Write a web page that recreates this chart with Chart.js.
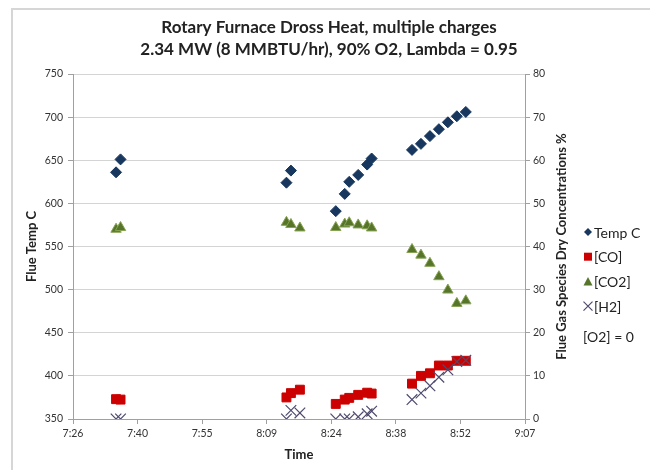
<!DOCTYPE html>
<html>
<head>
<meta charset="utf-8">
<script src="https://cdn.jsdelivr.net/npm/chart.js@4.4.1/dist/chart.umd.min.js"></script>
<style>
html, body { margin: 0; padding: 0; background: #fff; }
</style>
</head>
<body>
<canvas id="furnaceChart" width="650" height="470"></canvas>
<script>
// sample times, minutes after midnight
var sampleMinutes = [456, 457, 494, 495, 497, 505, 507, 508, 510, 512, 513, 522, 524, 526, 528, 530, 532, 534];
// flue temperature, C (null = no reading)
var tempC = [636, 651, 624, 638, null, 591, 611, 625, 633, 645, 652, 662, 669, 678, 686, 694, 701, 706];
// dry gas concentrations, %
var coPct  = [4.6, 4.5, 5.0, 6.0, 6.8, 3.5, 4.5, 4.9, 5.6, 6.1, 5.9, 8.2, 10.0, 10.6, 12.4, 12.4, 13.5, 13.5];
var co2Pct = [44.0, 44.4, 45.6, 45.1, 44.3, 44.4, 45.2, 45.5, 45.0, 44.8, 44.3, 39.3, 38.0, 36.1, 33.0, 29.9, 26.8, 27.4];
var h2Pct  = [0, 0, 0, 2.0, 1.4, 0, 0, 0, 0.5, 1.2, 1.8, 4.5, 6.0, 7.7, 9.7, 11.4, 13.3, 13.6];

var xTickLabels = ['7:26', '7:40', '7:55', '8:09', '8:24', '8:38', '8:52', '9:07'];
var xStart = 446.4, xStep = 14.4;   // excel axis: 0.31 .. 0.38 days, unit 0.01

var titleLines = ['Rotary Furnace Dross Heat, multiple charges', '2.34 MW (8 MMBTU/hr), 90% O2, Lambda = 0.95'];
var seriesNames = ['Temp C', '[CO]', '[CO2]', '[H2]'];

function toPoints(vals) {
    var pts = [];
    for (var i = 0; i < vals.length; i++) {
        if (vals[i] !== null) pts.push({ x: sampleMinutes[i], y: vals[i] });
    }
    return pts;
}

Chart.defaults.font.family = 'Lato';
Chart.defaults.color = '#333';

var tickFont = { family: 'Lato', size: 10.5 };
var axisGray = '#a0a0a0';

// white page + the thin frame round the chart
var framePlugin = {
    id: 'frame',
    beforeDraw: function (chart) {
        var ctx = chart.ctx;
        ctx.save();
        ctx.fillStyle = '#fff';
        ctx.fillRect(0, 0, chart.width, chart.height);
        ctx.strokeStyle = '#d6d6d6';
        ctx.lineWidth = 2;
        ctx.strokeRect(12, 9, chart.width + 20, chart.height + 20);
        ctx.restore();
    }
};

// right axis title (reads bottom to top) and the legend
var sidePlugin = {
    id: 'side',
    afterDraw: function (chart) {
        var ctx = chart.ctx;
        var area = chart.chartArea;
        ctx.save();
        ctx.fillStyle = '#222';
        ctx.font = 'bold 13px Lato';
        ctx.textAlign = 'center';
        ctx.textBaseline = 'middle';
        ctx.translate(562, (area.top + area.bottom) / 2);
        ctx.rotate(-Math.PI / 2);
        ctx.fillText('Flue Gas Species Dry Concentrations %', 0, 0);
        ctx.restore();

        var lx = 588, ly = 232, gap = 24.7;
        ctx.save();
        ctx.font = '14px Lato';
        ctx.textAlign = 'left';
        ctx.textBaseline = 'middle';
        chart.data.datasets.forEach(function (ds, i) {
            var y = ly + i * gap;
            ctx.fillStyle = ds.backgroundColor;
            ctx.strokeStyle = ds.borderColor;
            ctx.lineWidth = 1.2;
            ctx.beginPath();
            if (ds.pointStyle === 'rectRot') {
                ctx.moveTo(lx - 4, y); ctx.lineTo(lx, y - 4); ctx.lineTo(lx + 4, y); ctx.lineTo(lx, y + 4);
                ctx.closePath(); ctx.fill();
            } else if (ds.pointStyle === 'rect') {
                ctx.rect(lx - 4, y - 4, 8, 8); ctx.fill();
            } else if (ds.pointStyle === 'triangle') {
                ctx.moveTo(lx - 4.5, y + 4); ctx.lineTo(lx, y - 4.5); ctx.lineTo(lx + 4.5, y + 4);
                ctx.closePath(); ctx.fill();
            } else {
                ctx.moveTo(lx - 4.5, y - 4.5); ctx.lineTo(lx + 4.5, y + 4.5);
                ctx.moveTo(lx + 4.5, y - 4.5); ctx.lineTo(lx - 4.5, y + 4.5);
                ctx.stroke();
            }
            ctx.fillStyle = '#222';
            ctx.fillText(ds.label, lx + 6, y + 1);
        });
        ctx.fillText('[O2] = 0', lx - 5, 337);
        ctx.restore();
    }
};

var ctxFurnace = document.getElementById('furnaceChart').getContext('2d');

var furnaceChart = new Chart(ctxFurnace, {
    type: 'scatter',
    data: {
        datasets: [
            { label: seriesNames[0], data: toPoints(tempC), yAxisID: 'y', order: 3,
              pointStyle: 'rectRot', radius: 5.5, backgroundColor: '#17375e', borderColor: '#17375e', borderWidth: 1 },
            { label: seriesNames[1], data: toPoints(coPct), yAxisID: 'y2', order: 2,
              pointStyle: 'rect', radius: 6.3, backgroundColor: '#cc0000', borderColor: '#cc0000', borderWidth: 1 },
            { label: seriesNames[2], data: toPoints(co2Pct), yAxisID: 'y2', order: 1,
              pointStyle: 'triangle', radius: 6, backgroundColor: '#56752a', borderColor: '#86a352', borderWidth: 1 },
            { label: seriesNames[3], data: toPoints(h2Pct), yAxisID: 'y2', order: 0,
              pointStyle: 'crossRot', radius: 7.5, backgroundColor: '#4e4a6e', borderColor: '#4e4a6e', borderWidth: 1.2 }
        ]
    },
    options: {
        responsive: false,
        animation: false,
        layout: { padding: { left: 8, right: 0, top: 0, bottom: 0 } },
        plugins: {
            legend: { display: false },
            tooltip: { enabled: false },
            title: {
                display: true, text: titleLines, color: '#222',
                font: { family: 'Lato', size: 17, weight: 'bold', lineHeight: 1.3 },
                padding: { top: 16, bottom: 13.8 }
            }
        },
        scales: {
            x: {
                type: 'linear',
                min: xStart,
                max: xStart + xStep * (xTickLabels.length - 1),
                afterBuildTicks: function (scale) {
                    scale.ticks = xTickLabels.map(function (l, i) { return { value: xStart + i * xStep }; });
                },
                afterFit: function (scale) { scale.height = 51; },
                ticks: {
                    autoSkip: false, maxRotation: 0, padding: 3, font: tickFont, color: '#333',
                    callback: function (v, i) { return xTickLabels[i]; }
                },
                grid: { drawOnChartArea: false, tickLength: 5, tickColor: axisGray },
                border: { color: axisGray },
                title: { display: true, text: 'Time', color: '#222',
                         font: { family: 'Lato', size: 13, weight: 'bold' }, padding: { top: 0, bottom: 7 } }
            },
            y: {
                position: 'left', min: 350, max: 750,
                afterFit: function (scale) { scale.width = 65; },
                ticks: { stepSize: 50, padding: 5, font: tickFont, color: '#333' },
                grid: { color: '#d4d4d4', tickColor: axisGray, tickLength: 5 },
                border: { color: axisGray },
                title: { display: true, text: 'Flue Temp C', color: '#222',
                         font: { family: 'Lato', size: 13, weight: 'bold' }, padding: { top: 16.2, bottom: 0 } }
            },
            y2: {
                position: 'right', min: 0, max: 80,
                afterFit: function (scale) { scale.width = 125; },
                ticks: { stepSize: 10, padding: 3, font: tickFont, color: '#333' },
                grid: { drawOnChartArea: false, tickColor: axisGray, tickLength: 5 },
                border: { color: axisGray }
            }
        }
    },
    plugins: [framePlugin, sidePlugin]
});
</script>
</body>
</html>
